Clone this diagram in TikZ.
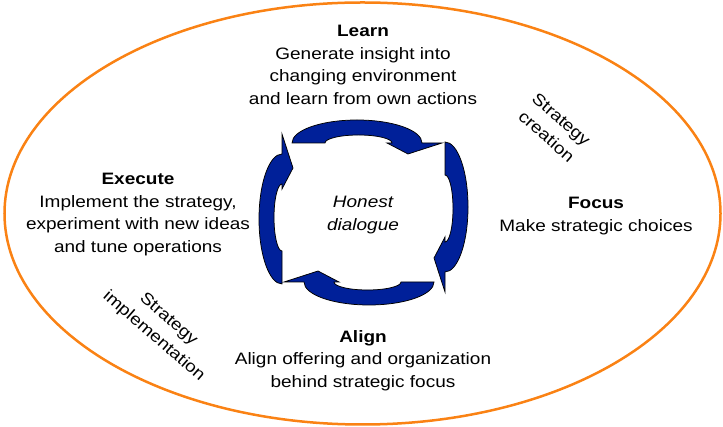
\documentclass[tikz,border=0pt]{standalone}
\usepackage{fontspec}
\setmainfont{Liberation Sans}[FakeStretch=1.15]
\usepackage{tikz}

\definecolor{loopblue}{RGB}{0,32,153}
\definecolor{rimorange}{RGB}{250,130,20}

\begin{document}
\begin{tikzpicture}[
  x=0.2mm, y=0.2mm,
  font=\fontsize{9.4}{12.8}\selectfont,
  phase/.style={align=center, anchor=north, inner sep=0pt},
  mode/.style={align=center, inner sep=0pt, rotate=-41},
  rim/.style={draw=rimorange, line width=0.5mm},
  turn/.pic={
    \filldraw[fill=loopblue, draw=black, line width=0.15mm]
      (-71,0) arc[start angle=180, end angle=0, x radius=65, y radius=23]
      -- (79,0) -- (45,-11) -- (24,0) -- (29,0)
      arc[start angle=0, end angle=180, x radius=33.5, y radius=8] -- cycle;
  },
]
\useasboundingbox (0,0) rectangle (723,-427);

% Outer boundary
\draw[rim] (362.5,-213.5) ellipse [x radius=358, y radius=211];

% Four quarter arrows round the centre
\pic at (363,-143) {turn};
\pic[rotate=-90] at (445,-213) {turn};
\pic[rotate=180] at (363,-282) {turn};
\pic[rotate=90] at (282,-213) {turn};

% Phases
\node[phase] (learn) at (363,-25.2)
  {\textbf{Learn}\\Generate insight into\\changing environment\\and learn from own actions};
\node[phase] (execute) at (138,-173.2)
  {\textbf{Execute}\\Implement the strategy,\\experiment with new ideas\\and tune operations};
\node[phase] (focus) at (596,-197.2)
  {\textbf{Focus}\\Make strategic choices};
\node[phase] (align) at (363,-330)
  {\textbf{Align}\\Align offering and organization\\behind strategic focus};
\node[phase, font=\fontsize{9.4}{12.8}\selectfont\itshape] (dialogue) at (363,-196.2)
  {Honest\\dialogue};

% Slanted side notes
\node[mode] (create) at (554,-128) {Strategy\\creation};
\node[mode] (implement) at (161,-328) {Strategy\\implementation};
\end{tikzpicture}
\end{document}
